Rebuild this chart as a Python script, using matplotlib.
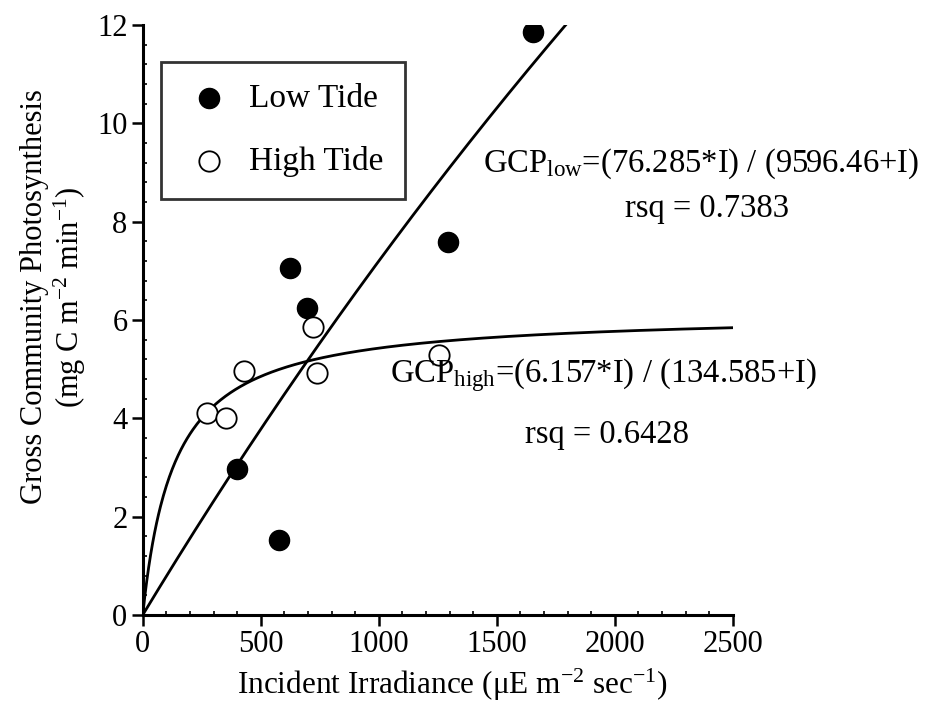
import numpy as np
import matplotlib
matplotlib.use("Agg")
import matplotlib.pyplot as plt
from matplotlib.ticker import AutoMinorLocator

plt.rcParams['font.family'] = ['Liberation Serif', 'DejaVu Serif']
plt.rcParams['mathtext.fontset'] = 'custom'
plt.rcParams['mathtext.rm'] = 'Liberation Serif'
plt.rcParams['mathtext.it'] = 'Liberation Serif'

# measured points
low_irr = [1655, 1295, 625, 695, 401, 576]
low_gcp = [11.85, 7.59, 7.05, 6.25, 2.96, 1.53]
high_irr = [271, 353, 429, 720, 737, 1257]
high_gcp = [4.11, 4.01, 4.97, 5.85, 4.93, 5.28]

# fitted hyperbola parameters (from the chart annotations)
low_pmax, low_k = 76.285, 9596.46
high_pmax, high_k = 6.157, 134.585

fig = plt.figure(figsize=(9.36, 7.15), dpi=100)
ax = fig.add_axes([0.1525, 0.14, 0.6305, 0.825])

irr = np.linspace(0, 2500, 600)
ax.plot(irr, low_pmax * irr / (low_k + irr), color='black', lw=2.0)
ax.plot(irr, high_pmax * irr / (high_k + irr), color='black', lw=2.0)

ax.scatter(low_irr, low_gcp, s=210, color='black', zorder=3, label='Low Tide')
ax.scatter(high_irr, high_gcp, s=215, facecolor='white', edgecolor='black',
           linewidths=1.3, zorder=3, label='High Tide')

ax.set_xlim(0, 2500)
ax.set_ylim(0, 12)
ax.set_xticks([0, 500, 1000, 1500, 2000, 2500])
ax.set_yticks([0, 2, 4, 6, 8, 10, 12])
ax.xaxis.set_minor_locator(AutoMinorLocator(5))
ax.yaxis.set_minor_locator(AutoMinorLocator(5))
ax.tick_params(which='major', direction='out', length=8, width=1.8, labelsize=22, pad=3)
ax.tick_params(which='minor', direction='in', length=3, width=1.2)
for s in ['top', 'right']:
    ax.spines[s].set_visible(False)
for s in ['left', 'bottom']:
    ax.spines[s].set_linewidth(2.2)

ax.set_xlabel(r'Incident Irradiance ($\mathregular{\mu}$E m$^{-2}$ sec$^{-1}$)', fontsize=22.5)
ax.xaxis.set_label_coords(0.524, -0.088)
ax.set_ylabel('Gross Community Photosynthesis\n(mg C m$^{-2}$ min$^{-1}$)', fontsize=22,
              linespacing=1.1)
ax.yaxis.set_label_coords(-0.093, 0.539)

leg = ax.legend(loc='upper left', bbox_to_anchor=(161 / 936, 1 - 62 / 715),
                bbox_transform=fig.transFigure, fontsize=24, frameon=True,
                fancybox=False, edgecolor='black', handletextpad=0.45, labelspacing=0.95,
                borderpad=0.65, handlelength=1.55, borderaxespad=0)
leg.get_frame().set_linewidth(2)

eq_size = 23.5
ax.text(1442, 9.01, r'GCP$_{\mathregular{low}}$=(76.285*I) / (9596.46+I)', fontsize=eq_size)
ax.text(2391, 8.09, 'rsq = 0.7383', fontsize=eq_size, ha='center')
ax.text(1048, 4.74, r'GCP$_{\mathregular{high}}$=(6.157*I) / (134.585+I)', fontsize=eq_size)
ax.text(1967, 3.50, 'rsq = 0.6428', fontsize=eq_size, ha='center')

fig.savefig('out.png', dpi=100)
